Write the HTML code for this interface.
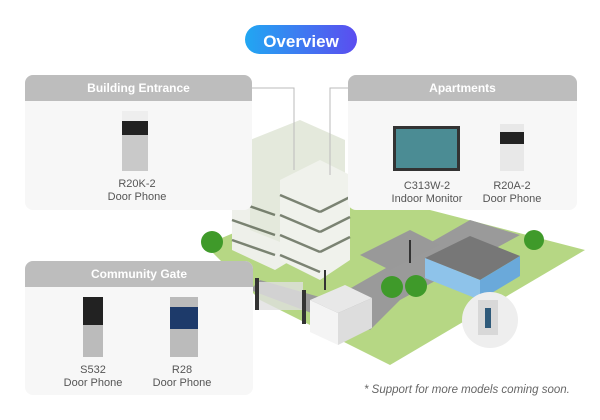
<!DOCTYPE html>
<html><head><meta charset="utf-8"><style>
body{margin:0;width:600px;height:420px;background:#fff;position:relative;overflow:hidden;font-family:"Liberation Sans",sans-serif}
.p{position:absolute;background:#f7f7f7;border-radius:8px;overflow:hidden}
.h{background:#bdbdbd;color:#fff;font-weight:bold;font-size:12px;text-align:center;height:26px;line-height:26px}
.l{position:absolute;font-size:11px;color:#555;text-align:center;line-height:13px;width:100px}
</style></head><body>
<svg width="600" height="420" style="position:absolute;left:0;top:0">
<defs><linearGradient id="g" x1="0" x2="1"><stop offset="0" stop-color="#21a7f2"/><stop offset="1" stop-color="#5b4df0"/></linearGradient></defs>
<rect x="245" y="25" width="112" height="29" rx="14.5" fill="url(#g)"/>
<!-- ground -->
<polygon points="205,245 300,205 430,210 585,250 390,365 260,300" fill="#b6d784"/>
<polygon points="260,280 330,300 470,220 520,235 400,300 370,330 330,320 250,290" fill="#9a9a9a"/>
<polygon points="360,255 410,230 440,245 390,270" fill="#999"/>
<!-- gym -->
<polygon points="425,258 470,236 520,256 480,280" fill="#777"/>
<polygon points="425,258 480,280 480,300 425,278" fill="#8ec3ea"/>
<polygon points="480,280 520,256 520,276 480,300" fill="#6aa9da"/>
<circle cx="490" cy="320" r="28" fill="#eee"/>
<rect x="478" y="300" width="20" height="35" fill="#d8d8d8"/><rect x="485" y="308" width="6" height="20" fill="#2f5a7a"/>
<!-- guard house -->
<polygon points="310,300 345,285 372,298 338,313" fill="#e8e8e8"/>
<polygon points="310,300 338,313 338,345 310,332" fill="#f4f4f4"/>
<polygon points="338,313 372,298 372,328 338,345" fill="#ddd"/>
<!-- gate -->
<rect x="258" y="282" width="45" height="28" fill="#e0e0e0" opacity=".8"/>
<rect x="255" y="278" width="4" height="32" fill="#333"/><rect x="302" y="290" width="4" height="34" fill="#333"/>
<!-- buildings -->
<polygon points="232,185 275,165 300,180 300,255 275,270 232,250" fill="#eef0ea"/>
<polygon points="250,140 300,120 345,140 345,230 300,250 250,230" fill="#e4e9dc"/>
<polygon points="280,180 320,160 350,175 350,260 320,280 280,260" fill="#f0f2ec"/>
<g stroke="#4a5540" stroke-width="2.5" opacity=".7">
<line x1="232" y1="200" x2="275" y2="215"/><line x1="232" y1="220" x2="275" y2="235"/><line x1="232" y1="240" x2="275" y2="255"/>
<line x1="280" y1="195" x2="320" y2="212"/><line x1="280" y1="215" x2="320" y2="232"/><line x1="280" y1="235" x2="320" y2="252"/><line x1="280" y1="255" x2="320" y2="272"/>
<line x1="320" y1="212" x2="350" y2="197"/><line x1="320" y1="232" x2="350" y2="217"/><line x1="320" y1="252" x2="350" y2="237"/>
</g>
<!-- trees -->
<g fill="#3f9a2a"><circle cx="212" cy="242" r="11"/><circle cx="534" cy="240" r="10"/><circle cx="392" cy="287" r="11"/><circle cx="416" cy="286" r="11"/></g>
<g stroke="#333" stroke-width="2"><line x1="325" y1="270" x2="325" y2="290"/><line x1="410" y1="240" x2="410" y2="263"/></g>
<polyline points="252,88 294,88 294,170" fill="none" stroke="#bbb"/>
<polyline points="348,88 330,88 330,175" fill="none" stroke="#bbb"/>
<text x="301" y="47" font-family="Liberation Sans" font-weight="bold" font-size="17" fill="#fff" text-anchor="middle">Overview</text>
</svg>
<div class="p" style="left:25px;top:75px;width:227px;height:135px"><div class="h">Building Entrance</div></div>
<div class="p" style="left:348px;top:75px;width:229px;height:135px"><div class="h">Apartments</div></div>
<div class="p" style="left:25px;top:261px;width:228px;height:134px"><div class="h">Community Gate</div></div>
<!-- devices -->
<div style="position:absolute;left:122px;top:111px;width:26px;height:60px;background:#c9c9c9"><div style="height:10px;background:#eee"></div><div style="height:14px;background:#222"></div></div>
<div style="position:absolute;left:393px;top:126px;width:67px;height:45px;background:#333;padding:3px;box-sizing:border-box"><div style="width:100%;height:100%;background:#4b8c94"></div></div>
<div style="position:absolute;left:500px;top:124px;width:24px;height:47px;background:#e8e8e8"><div style="height:8px;"></div><div style="height:12px;background:#222"></div></div>
<div style="position:absolute;left:83px;top:297px;width:20px;height:60px;background:#bbb"><div style="height:28px;background:#222"></div></div>
<div style="position:absolute;left:170px;top:297px;width:28px;height:60px;background:#bbb"><div style="height:10px"></div><div style="height:22px;background:#1d3a6a"></div></div>
<div class="l" style="left:87px;top:178px">R20K-2<br>Door Phone</div>
<div class="l" style="left:377px;top:180px">C313W-2<br>Indoor Monitor</div>
<div class="l" style="left:462px;top:180px">R20A-2<br>Door Phone</div>
<div class="l" style="left:43px;top:364px">S532<br>Door Phone</div>
<div class="l" style="left:132px;top:364px">R28<br>Door Phone</div>
<div style="position:absolute;left:364px;top:384px;font-size:11.5px;font-style:italic;color:#666">* Support for more models coming soon.</div>
</body></html>
